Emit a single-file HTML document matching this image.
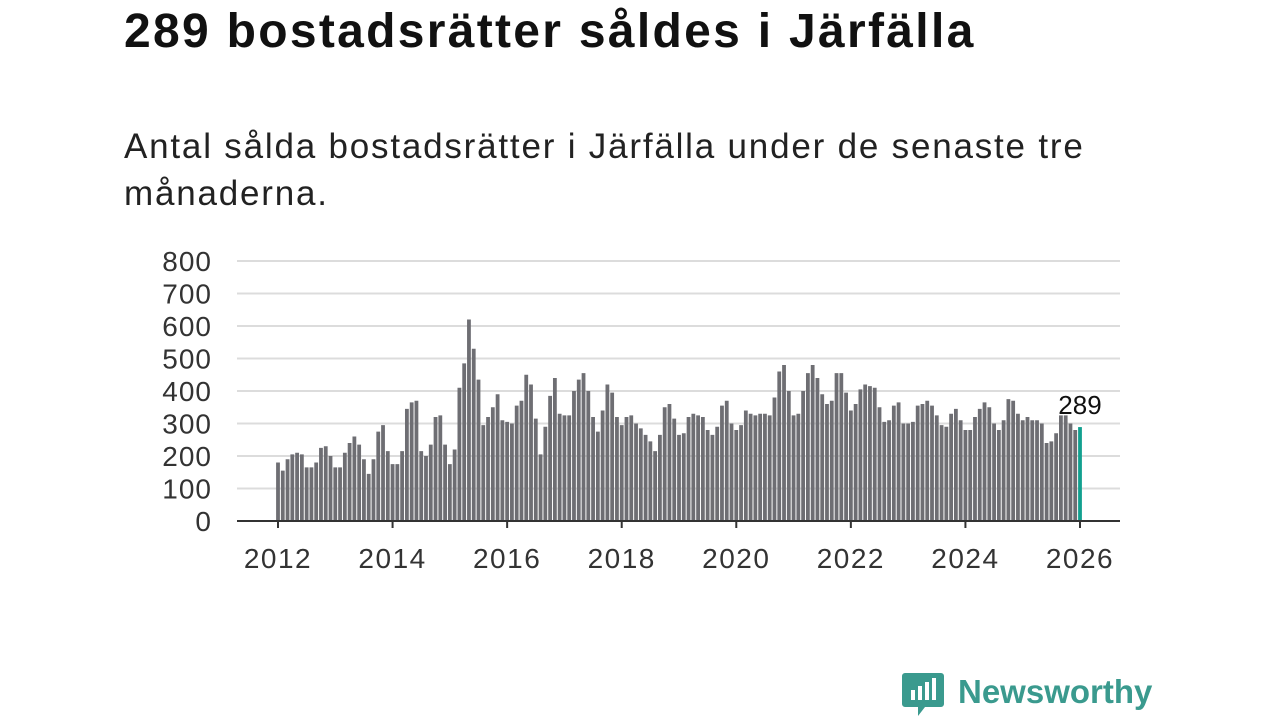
<!DOCTYPE html>
<html><head><meta charset="utf-8"><style>
body{margin:0;width:1280px;height:720px;background:#fff;font-family:"Liberation Sans","DejaVu Sans",sans-serif;overflow:hidden;position:relative}
h1{position:absolute;left:124px;top:4px;margin:0;font-size:48px;font-weight:bold;color:#111;letter-spacing:2.3px}
.sub{position:absolute;left:124px;top:123px;margin:0;font-size:35px;line-height:47px;color:#222;width:1010px;letter-spacing:1.8px}
svg{position:absolute;left:0;top:0}
</style></head><body>
<h1>289 bostadsrätter såldes i Järfälla</h1>
<p class="sub">Antal sålda bostadsrätter i Järfälla under de senaste tre månaderna.</p>
<svg id="chart" width="1280" height="720"></svg>
<script>
const startYear = 2012;
const values = [
180,155,190,205,210,205,165,165,180,225,230,200,
165,165,210,240,260,235,190,145,190,275,295,215,
175,175,215,345,365,370,215,200,235,320,325,235,
175,220,410,485,620,530,435,295,320,350,390,310,
305,300,355,370,450,420,315,205,290,385,440,330,
325,325,400,435,455,400,320,275,340,420,395,320,
295,320,325,300,285,265,245,215,265,350,360,315,
265,270,320,330,325,320,280,265,290,355,370,300,
280,295,340,330,325,330,330,325,380,460,480,400,
325,330,400,455,480,440,390,360,370,455,455,395,
340,360,405,420,415,410,350,305,310,355,365,300,
300,305,355,360,370,355,325,295,290,330,345,310,
280,280,320,345,365,350,300,280,310,375,370,330,
310,320,310,310,300,240,245,270,325,325,300,280,
289];
const yTicks = [0,100,200,300,400,500,600,700,800];
const xTicks = [2012,2014,2016,2018,2020,2022,2024,2026];
const NS="http://www.w3.org/2000/svg";
const svg=document.getElementById('chart');
const y=v=>521-v*(260/800);
const x=i=>278+i*(802/168);
function mk(t,a){const e=document.createElementNS(NS,t);for(const k in a)e.setAttribute(k,a[k]);svg.appendChild(e);return e;}
yTicks.forEach(v=>{
  const l=mk('line',{x1:237,x2:1120,y1:y(v),y2:y(v),stroke:'#dcdcdc','stroke-width':2});
  
  
  const t=mk('text',{x:212,y:y(v)+10,'text-anchor':'end','font-size':28,'letter-spacing':1,fill:'#333'});
  t.textContent=v;
  
  
});
values.forEach((v,i)=>{
  const last=i===values.length-1;
  const r=mk('rect',{x:x(i)-1.9,y:y(v),width:3.8,height:521-y(v),fill:last?'#12a08f':'#6e6e73'});
  
  
});
const ax=mk('line',{x1:237,x2:1120,y1:521,y2:521,stroke:'#333','stroke-width':2});


xTicks.forEach(yr=>{
  const xi=x((yr-startYear)*12);
  const tk=mk('line',{x1:xi,x2:xi,y1:521,y2:528,stroke:'#333','stroke-width':2});
  
  
  const t=mk('text',{x:xi,y:568,'text-anchor':'middle','font-size':28,'letter-spacing':1.5,fill:'#333'});
  t.textContent=yr;
  
  
});
const li=values.length-1;
const lab=mk('text',{x:x(li),y:y(values[li])-13,'text-anchor':'middle','font-size':26,fill:'#111'});
lab.textContent=values[li];


</script>
<svg width="1280" height="720" style="pointer-events:none">
<path d="M905 673 h36 a3 3 0 0 1 3 3 v28 a3 3 0 0 1 -3 3 h-16 l-7 9 v-9 h-13 a3 3 0 0 1 -3 -3 v-28 a3 3 0 0 1 3 -3z" fill="#3a9a8e"/>
<rect x="911" y="690" width="4" height="10" fill="#fff"/><rect x="918" y="686" width="4" height="14" fill="#fff"/><rect x="925" y="682" width="4" height="18" fill="#fff"/><rect x="932" y="678" width="4" height="22" fill="#fff"/>
<text x="958" y="703" font-size="33" font-weight="bold" fill="#3a9a8e" font-family="Liberation Sans, sans-serif">Newsworthy</text>
</svg>
</body></html>
